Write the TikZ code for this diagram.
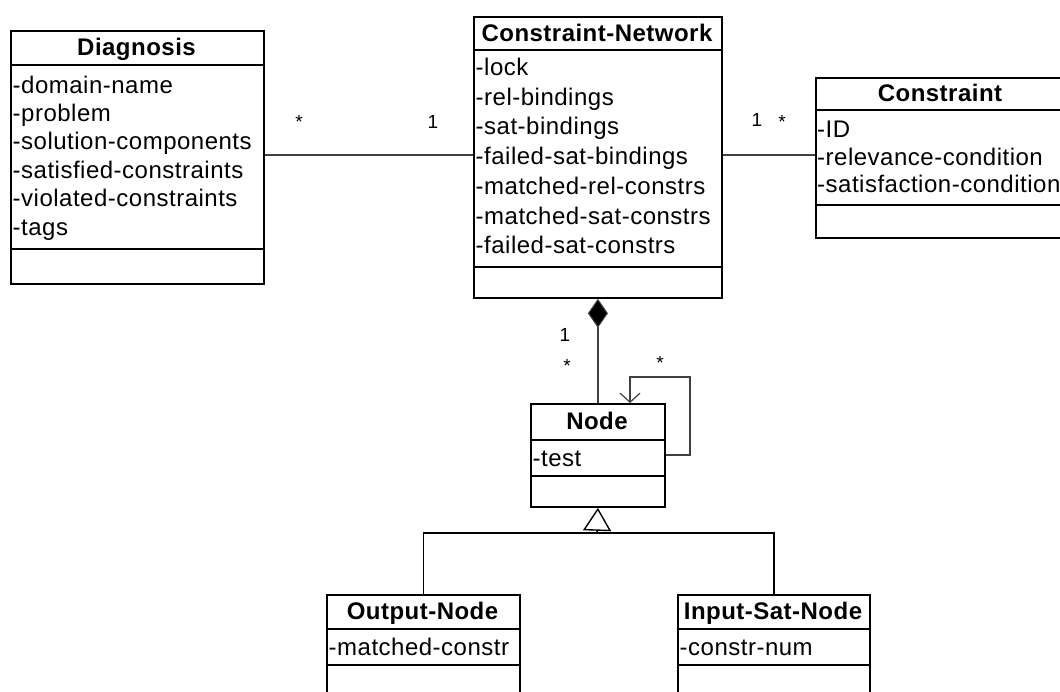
\documentclass[tikz,border=0pt]{standalone}
\usepackage{fontspec}
\setmainfont{Liberation Sans}
\newfontfamily\attrfont[LetterSpace=2.1]{Liberation Sans}
\newfontfamily\headfont[LetterSpace=2]{Liberation Sans}
\usetikzlibrary{arrows.meta,calc}
\begin{document}
\begin{tikzpicture}[x=1pt,y=-1pt,
  classbox/.style={draw=black,line width=1.8pt,inner sep=0pt,anchor=north west},
  sepline/.style={draw=black,line width=1.6pt},
  ctitle/.style={font=\headfont\fontsize{24}{28}\selectfont\bfseries,inner sep=0pt,anchor=base},
  cattr/.style={font=\attrfont\fontsize{24}{28}\selectfont,inner sep=0pt,anchor=base west},
  mult/.style={font=\fontsize{19}{22}\selectfont,inner sep=0pt,anchor=base},
  assoc/.style={draw=black!75,line width=1.4pt},
  genline/.style={draw=black,line width=1.4pt}]

% canvas
\fill[white] (0,0) rectangle (1060,691);
\useasboundingbox (0,0) rectangle (1060,691);
\clip (0,0) rectangle (1060,691);

% ---- Diagnosis
\node[classbox,minimum width=253pt,minimum height=253pt] (diag) at (10,30) {};
\node[ctitle] (diagT) at (136.5,55.5) {Diagnosis};
\draw[sepline] (diag.west |- 0,65) -- (diag.east |- 0,65);
\draw[sepline] (diag.west |- 0,249) -- (diag.east |- 0,249);
\foreach [count=\i] \t in {-domain-name,-problem,-solution-components,-satisfied-constraints,-violated-constraints,-tags}
  \node[cattr] (diagA\i) at (12.5,{93+28.4*(\i-1)}) {\t};

% ---- Constraint-Network
\node[classbox,minimum width=248pt,minimum height=281pt] (cn) at (473,16) {};
\node[ctitle] (cnT) at (597,41.5) {Constraint-Network};
\draw[sepline] (cn.west |- 0,50) -- (cn.east |- 0,50);
\draw[sepline] (cn.west |- 0,267) -- (cn.east |- 0,267);
\foreach [count=\i] \t in {-lock,-rel-bindings,-sat-bindings,-failed-sat-bindings,-matched-rel-constrs,-matched-sat-constrs,-failed-sat-constrs}
  \node[cattr] (cnA\i) at (475.5,{75.5+29.7*(\i-1)}) {\t};

% ---- Constraint
\node[classbox,minimum width=250pt,minimum height=160pt] (con) at (815,77) {};
\node[ctitle] (conT) at (940,101.5) {Constraint};
\draw[sepline] (con.west |- 0,110) -- (con.east |- 0,110);
\draw[sepline] (con.west |- 0,205) -- (con.east |- 0,205);
\foreach [count=\i] \t in {-ID,-relevance-condition,-satisfaction-condition}
  \node[cattr] (conA\i) at (817,{137.5+27.5*(\i-1)}) {\t};

% ---- Node
\node[classbox,minimum width=134pt,minimum height=103pt] (nd) at (530,403) {};
\node[ctitle] (ndT) at (597,429.5) {Node};
\draw[sepline] (nd.west |- 0,440) -- (nd.east |- 0,440);
\draw[sepline] (nd.west |- 0,476) -- (nd.east |- 0,476);
\node[cattr] (ndA1) at (532.5,466.5) {-test};

% ---- Output-Node
\node[classbox,minimum width=193pt,minimum height=120pt] (out) at (326,594) {};
\node[ctitle] (outT) at (422.5,619.5) {Output-Node};
\draw[sepline] (out.west |- 0,629) -- (out.east |- 0,629);
\draw[sepline] (out.west |- 0,665) -- (out.east |- 0,665);
\node[cattr] (outA1) at (328.5,655.5) {-matched-constr};

% ---- Input-Sat-Node
\node[classbox,minimum width=192pt,minimum height=120pt] (ins) at (677,594) {};
\node[ctitle] (insT) at (773,619.5) {Input-Sat-Node};
\draw[sepline] (ins.west |- 0,629) -- (ins.east |- 0,629);
\draw[sepline] (ins.west |- 0,665) -- (ins.east |- 0,665);
\node[cattr] (insA1) at (679.5,655.5) {-constr-num};

% ---- associations
\draw[assoc] (diag.east |- 0,155) -- (cn.west |- 0,155);
\node[mult] (m1) at (299,128) {*};
\node[mult] (m2) at (433,128) {1};
\draw[assoc] (cn.east |- 0,155) -- (con.west |- 0,155);
\node[mult] (m3) at (757,126) {1};
\node[mult] (m4) at (782,128) {*};

% composition
\draw[assoc,{Diamond[width=20pt,length=29pt,fill=black,line width=1pt]}-] (cn.south) -- (nd.north);
\node[mult] (m5) at (565,341) {1};
\node[mult] (m6) at (567,372) {*};

% self association
\coordinate (loopA) at (690,377);
\coordinate (loopB) at (630,403);
\draw[assoc,-{Straight Barb[length=9pt,width=20pt,line width=1.2pt]}] (nd.east |- 0,455) -| (loopA) -| (loopB);
\node[mult] (m7) at (660,369) {*};

% generalisation
\coordinate (gj) at (597,533);
\draw[genline] (out.north) |- (gj) -| (ins.north);
\draw[genline,-{Triangle[open,width=28pt,length=23pt,line width=1.4pt,fill=white]}] (gj) -- (nd.south);
\end{tikzpicture}
\end{document}
